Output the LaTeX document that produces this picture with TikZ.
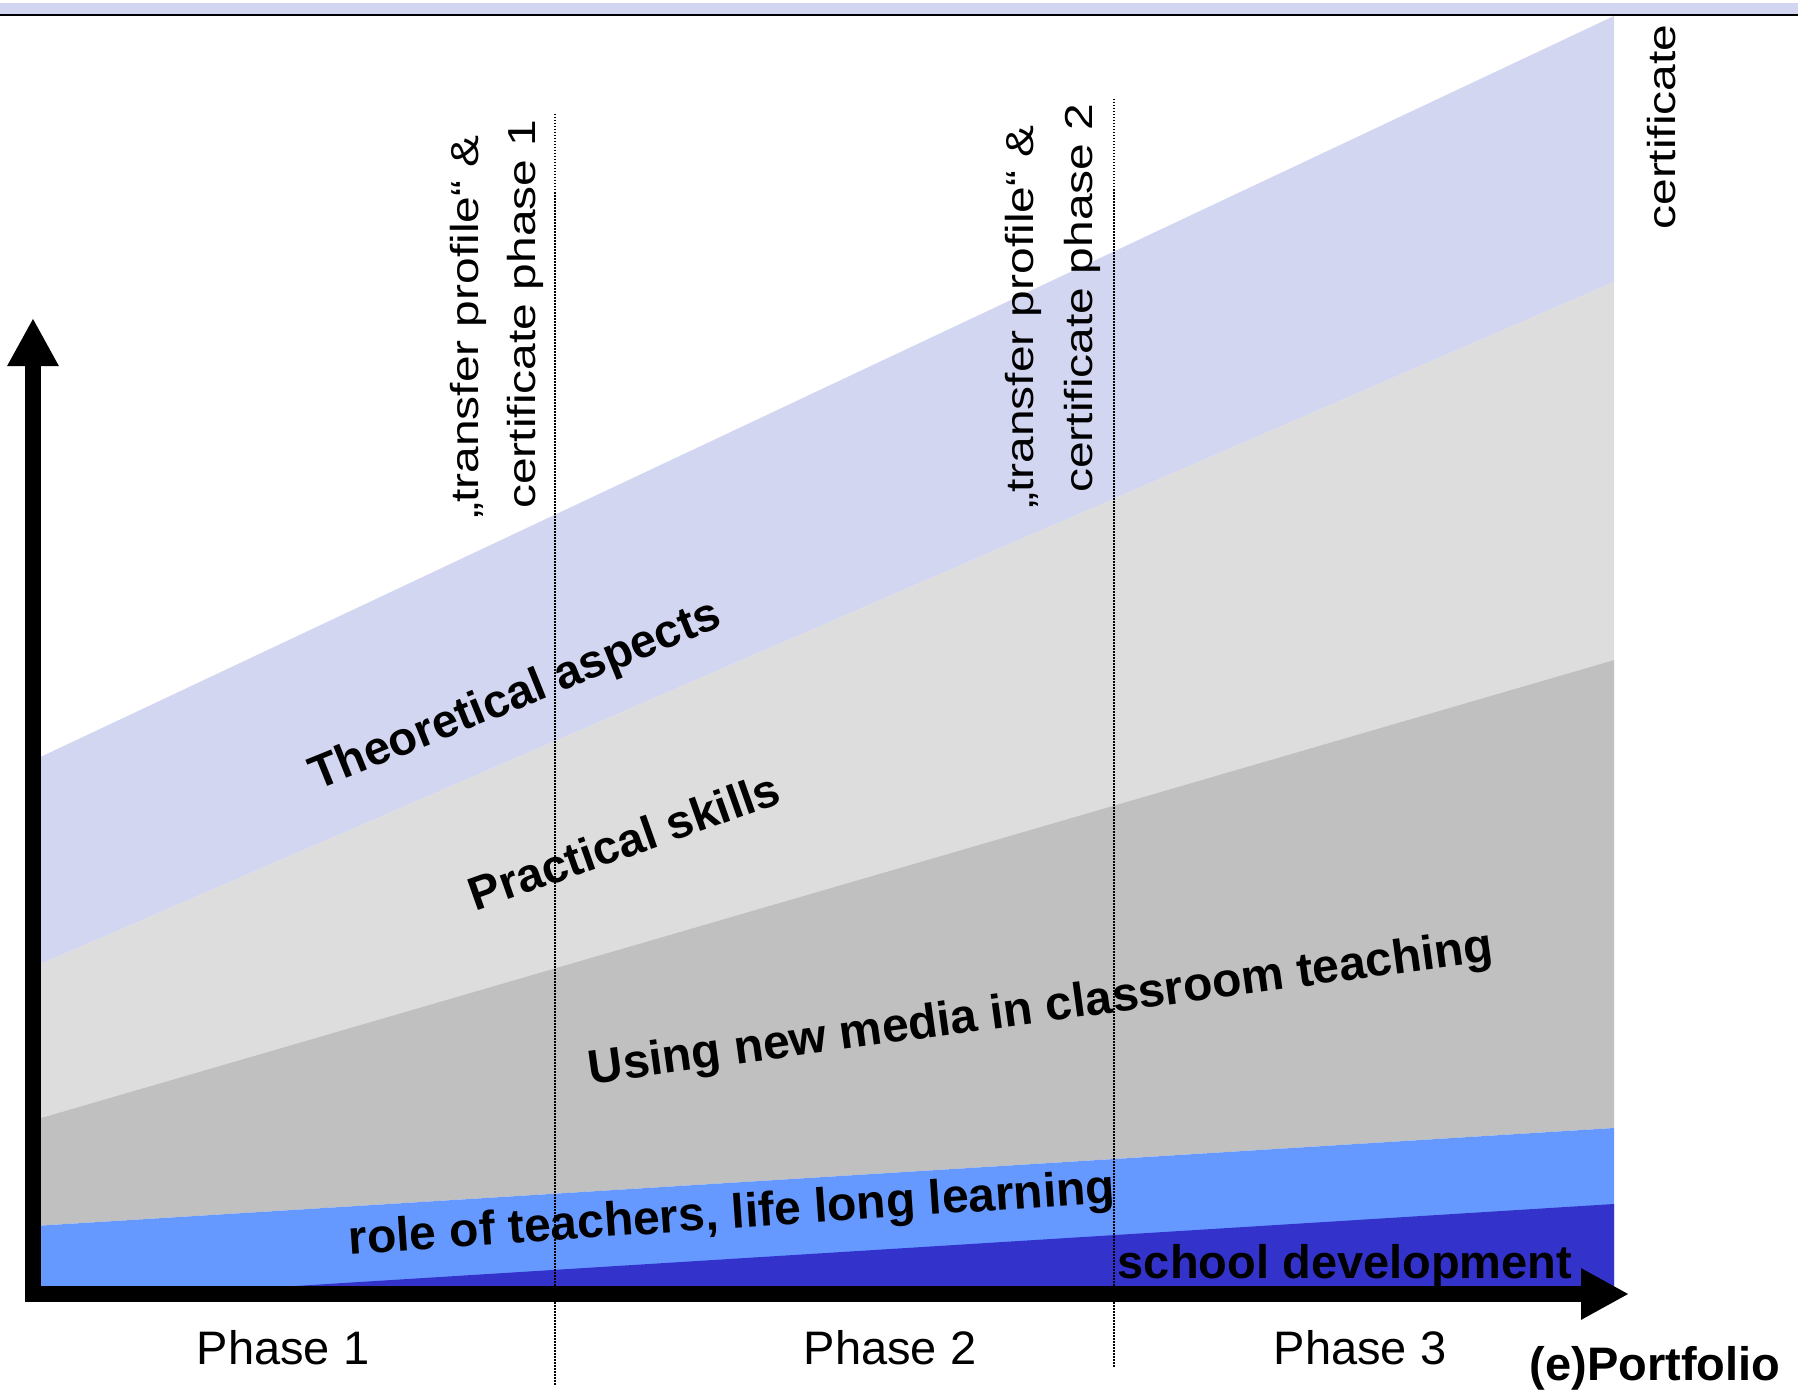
\documentclass[tikz,border=0pt]{standalone}
\usepackage{fontspec}
\usepackage{graphicx}
\setmainfont{Liberation Sans}
\usetikzlibrary{arrows.meta}
\definecolor{lav}{HTML}{D3D6F1}
\definecolor{lgray}{HTML}{DDDDDD}
\definecolor{mgray}{HTML}{C0C0C0}
\definecolor{lblue}{HTML}{6699FF}
\definecolor{dblue}{HTML}{3333CC}
\newcommand{\stretchtext}[1]{\scalebox{1.23}[1]{#1}}
\begin{document}
\begin{tikzpicture}[x=1pt,y=-1pt,
  axisline/.style={line width=16pt, line join=miter,
    {Triangle[length=48pt,width=48pt]}-{Triangle[length=48pt,width=48pt]}},
  guide/.style={line width=1.5pt, dash pattern=on 1.5pt off 1.5pt},
  bandlabel/.style={font=\fontsize{47}{56}\selectfont\bfseries, inner sep=0pt},
  widelabel/.style={font=\fontsize{48}{56}\selectfont\bfseries, inner sep=0pt},
  phaselabel/.style={font=\fontsize{47}{56}\selectfont, inner sep=0pt, anchor=base},
  milestone/.style={font=\fontsize{39}{58}\selectfont, inner sep=0pt, rotate=90, anchor=base}]
\useasboundingbox (0,0) rectangle (1798,1399);
% top strip
\fill[lav] (0,3) rectangle (1798,14);
\draw[line width=2.5pt] (0,15) -- (1798,15);
% bands
\fill[lav] (34,760) -- (1614,16) -- (1614,282) -- (34,967) -- cycle;
\fill[lgray] (34,967) -- (1614,282) -- (1614,660) -- (34,1120) -- cycle;
\fill[mgray] (34,1120) -- (1614,660) -- (1614,1128) -- (34,1226) -- cycle;
\fill[lblue] (34,1226) -- (1614,1128) -- (1614,1300) -- (34,1300) -- cycle;
\fill[dblue] (295,1286) -- (1614,1204) -- (1614,1300) -- (295,1300) -- cycle;
% guides
\coordinate (g1top) at (555,114);
\coordinate (g1bot) at (555,1385);
\coordinate (g2top) at (1114,99);
\coordinate (g2bot) at (1114,1368);
\draw[guide] (g1top) -- (g1bot);
\draw[guide] (g2top) -- (g2bot);
% axes
\coordinate (ytip) at (33,318);
\coordinate (origin) at (33,1294);
\coordinate (xtip) at (1629,1294);
\draw[axisline] (ytip) -- (origin) -- (xtip);
% band labels
\node[bandlabel, rotate=22] (theo) at (516,697) {Theoretical aspects};
\node[bandlabel, rotate=19.5] (prac) at (624,841) {Practical skills};
\node[widelabel, rotate=7.8] (media) at (1041,1010) {Using new media in classroom teaching};
\node[widelabel, rotate=3.9] (role) at (732,1216) {role of teachers, life long learning};
\node[bandlabel, anchor=base] (school) at (1345,1278) {school development};
\node[bandlabel, anchor=base] (portf) at (1655,1380) {(e)Portfolio};
% phases
\node[phaselabel] (ph1) at (283,1364) {Phase 1};
\node[phaselabel] (ph2) at (890,1364) {Phase 2};
\node[phaselabel] (ph3) at (1360,1364) {Phase 3};
% milestones
\node[milestone] (ms1a) at (478,327) {\stretchtext{„transfer profile“ \&}};
\node[milestone] (ms1b) at (535,314) {\stretchtext{certificate phase 1}};
\node[milestone] (ms2a) at (1033,317) {\stretchtext{„transfer profile“ \&}};
\node[milestone] (ms2b) at (1092,298) {\stretchtext{certificate phase 2}};
\node[milestone] (cert) at (1675,127) {\stretchtext{certificate}};
\end{tikzpicture}
\end{document}
